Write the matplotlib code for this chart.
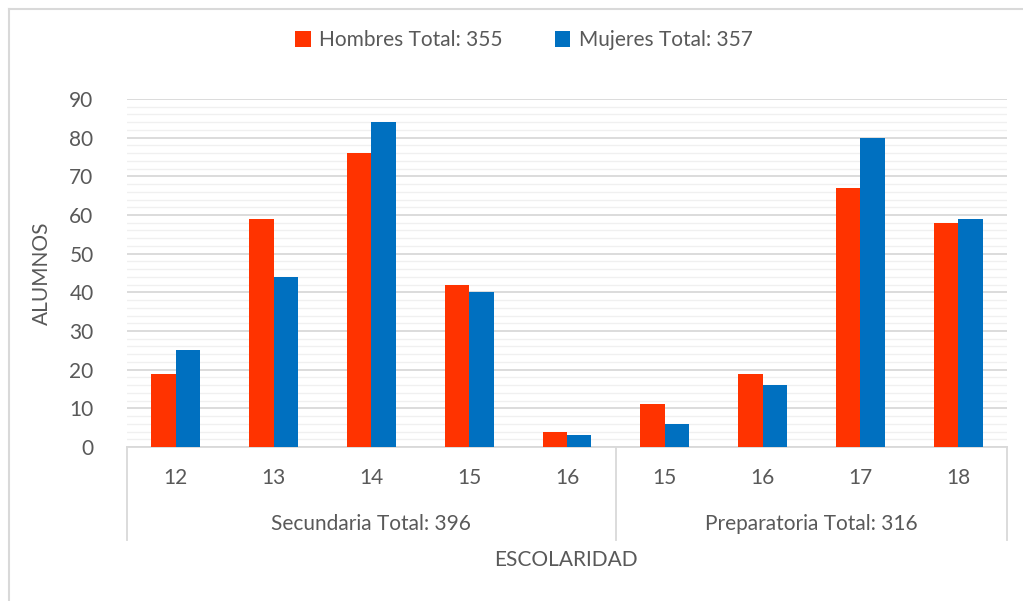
import numpy as np
import matplotlib
matplotlib.use("Agg")
import matplotlib.pyplot as plt
from matplotlib.lines import Line2D

edades = ["12", "13", "14", "15", "16", "15", "16", "17", "18"]
grupos = ["Secundaria Total: 396", "Preparatoria Total: 316"]
grupo_tam = [5, 4]
hombres = [19, 59, 76, 42, 4, 11, 19, 67, 58]
mujeres = [25, 44, 84, 40, 3, 6, 16, 80, 59]
etiqueta_h = "Hombres Total: 355"
etiqueta_m = "Mujeres Total: 357"

rojo = "#FF3300"
azul = "#0070C0"
gris_txt = "#595959"
gris_lin = "#D9D9D9"
fs = 15

plt.rcParams['font.family'] = ['Lato', 'DejaVu Sans']

fig = plt.figure(figsize=(10.23, 6.01), dpi=100)
ax = fig.add_axes([0.1241, 0.2562, 0.8603, 0.5791])

x = np.arange(len(edades))
w = 0.25
ax.bar(x - w / 2, hombres, w, color=rojo, label=etiqueta_h, zorder=3)
ax.bar(x + w / 2, mujeres, w, color=azul, label=etiqueta_m, zorder=3)

ax.set_xlim(-0.5, len(edades) - 0.5)
ax.set_ylim(0, 90)
ax.set_yticks(np.arange(0, 91, 10))
ax.set_yticks(np.arange(0, 91, 2), minor=True)
ax.grid(axis='y', which='major', color=gris_lin, linewidth=1.3, zorder=0)
ax.grid(axis='y', which='minor', color="#F0F0F0", linewidth=1.0, zorder=0)
ax.tick_params(axis='y', which='both', length=0, labelsize=fs, colors=gris_txt, pad=24)
ax.set_xticks([])
for s in ['top', 'right', 'left']:
    ax.spines[s].set_visible(False)
ax.spines['bottom'].set_color(gris_lin)
ax.spines['bottom'].set_linewidth(1.3)

ax.set_ylabel("ALUMNOS", fontsize=fs, color=gris_txt)
ax.yaxis.set_label_coords(-0.085, 0.5)

# etiquetas de categorias en dos niveles
trans = ax.get_xaxis_transform()
for xi, e in zip(x, edades):
    ax.text(xi, -0.09, e, transform=trans, ha='center', va='center',
            fontsize=fs, color=gris_txt)
bordes = [-0.5]
for t in grupo_tam:
    bordes.append(bordes[-1] + t)
for i, g in enumerate(grupos):
    ax.text((bordes[i] + bordes[i + 1]) / 2, -0.222, g, transform=trans,
            ha='center', va='center', fontsize=fs, color=gris_txt)
for b in bordes:
    ax.add_line(Line2D([b, b], [0, -0.267], transform=trans, color=gris_lin,
                       linewidth=1.3, clip_on=False))

fig.text(0.553, 0.068, "ESCOLARIDAD", ha='center', va='center',
         fontsize=fs, color=gris_txt)

ax.legend(loc='center', bbox_to_anchor=(0.5122, 0.933), bbox_transform=fig.transFigure,
          ncol=2, frameon=False, fontsize=fs, labelcolor=gris_txt,
          handlelength=0.75, handleheight=0.75, handletextpad=0.4, columnspacing=2.5)

# borde del grafico (arriba e izquierda)
fig.add_artist(Line2D([0.009, 1.0], [0.985, 0.985], transform=fig.transFigure,
                      color=gris_lin, linewidth=1.5))
fig.add_artist(Line2D([0.009, 0.009], [0.0, 0.985], transform=fig.transFigure,
                      color=gris_lin, linewidth=1.5))

fig.savefig("out.png", dpi=100)
